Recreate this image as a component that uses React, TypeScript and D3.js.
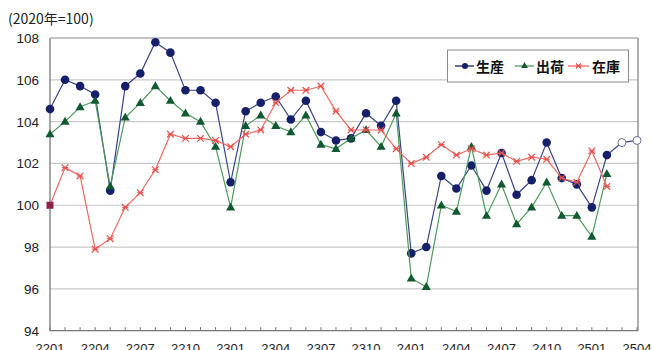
import React from "react";
import * as d3 from "d3";

// Monthly index (2020 = 100): production, shipments, inventory
const months = [
  "2201", "2202", "2203", "2204", "2205", "2206", "2207", "2208", "2209", "2210", "2211", "2212",
  "2301", "2302", "2303", "2304", "2305", "2306", "2307", "2308", "2309", "2310", "2311", "2312",
  "2401", "2402", "2403", "2404", "2405", "2406", "2407", "2408", "2409", "2410", "2411", "2412",
  "2501", "2502", "2503", "2504",
];

const tickLabels = ["2201", "2204", "2207", "2210", "2301", "2304", "2307", "2310", "2401", "2404", "2407", "2410", "2501", "2504"];
const yTicks = [94, 96, 98, 100, 102, 104, 106, 108];

const production = [
  104.6, 106.0, 105.7, 105.3, 100.7, 105.7, 106.3, 107.8, 107.3, 105.5, 105.5, 104.9,
  101.1, 104.5, 104.9, 105.2, 104.1, 105.0, 103.5, 103.1, 103.2, 104.4, 103.8, 105.0,
  97.7, 98.0, 101.4, 100.8, 101.9, 100.7, 102.5, 100.5, 101.2, 103.0, 101.3, 101.0,
  99.9, 102.4,
];

// Forecast (2503, 2504), drawn as open circles following the last actual value
const productionForecast = [103.0, 103.1];

const shipments = [
  103.4, 104.0, 104.7, 105.0, 100.9, 104.2, 104.9, 105.7, 105.0, 104.4, 104.0, 102.8,
  99.9, 103.8, 104.3, 103.8, 103.5, 104.3, 102.9, 102.7, 103.2, 103.6, 102.8, 104.4,
  96.5, 96.1, 100.0, 99.7, 102.8, 99.5, 101.0, 99.1, 99.9, 101.1, 99.5, 99.5,
  98.5, 101.5,
];

const inventory = [
  100.0, 101.8, 101.4, 97.9, 98.4, 99.9, 100.6, 101.7, 103.4, 103.2, 103.2, 103.1,
  102.8, 103.4, 103.6, 104.9, 105.5, 105.5, 105.7, 104.5, 103.6, 103.6, 103.6, 102.7,
  102.0, 102.3, 102.9, 102.4, 102.7, 102.4, 102.5, 102.1, 102.3, 102.2, 101.3, 101.1,
  102.6, 100.9,
];

const NAVY = "#16206a";
const NAVY_LINE = "#3a4488";
const GREEN = "#0f5a30";
const GREEN_LINE = "#4e9a5c";
const RED = "#e8504c";
const RED_LINE = "#ec6a62";

const W = 652;
const H = 350;
const plot = { left: 50, right: 637, top: 38, bottom: 330.7 };

export default function App() {
  const x = d3
    .scaleLinear()
    .domain([0, months.length - 1])
    .range([plot.left, plot.right]);
  const y = d3.scaleLinear().domain([94, 108]).range([plot.bottom, plot.top]);

  const line = d3
    .line<[number, number]>()
    .x((d) => x(d[0]))
    .y((d) => y(d[1]));

  const pts = (arr: number[], offset = 0): [number, number][] =>
    arr.map((v, i) => [i + offset, v]);

  const prodPts = pts(production);
  const lastIdx = production.length - 1;
  const forecastPts: [number, number][] = [
    [lastIdx, production[lastIdx]],
    ...pts(productionForecast, production.length),
  ];
  const shipPts = pts(shipments);
  const invPts = pts(inventory);

  const tri = d3.symbol().type(d3.symbolTriangle).size(36)();

  const xMark = (cx: number, cy: number, r: number, color: string, key: string) => (
    <g key={key} stroke={color} strokeWidth={1.2}>
      <line x1={cx - r} y1={cy - r} x2={cx + r} y2={cy + r} />
      <line x1={cx - r} y1={cy + r} x2={cx + r} y2={cy - r} />
      <line x1={cx - r * 0.9} y1={cy} x2={cx + r * 0.9} y2={cy} />
    </g>
  );

  const font = "'Liberation Sans', Arial, sans-serif";
  const jpFont = "'Noto Sans CJK JP', 'Noto Sans', sans-serif";

  return (
    <svg width={W} height={H} style={{ position: "absolute", left: 0, top: 0, background: "#fff" }}>
      <rect x={0} y={0} width={W} height={H} fill="#fff" />

      {/* unit label */}
      <text x={8} y={24} fontFamily={jpFont} fontSize={14} fill="#222">
        (2020年=100)
      </text>

      {/* horizontal gridlines */}
      {yTicks.slice(1, -1).map((t) => (
        <line key={t} x1={plot.left} x2={plot.right + 1} y1={y(t)} y2={y(t)} stroke="#c9c9c9" strokeWidth={1.2} />
      ))}
      <line x1={plot.left} x2={plot.right + 1} y1={y(108)} y2={y(108)} stroke="#8a8a8a" strokeWidth={1.2} />
      <line x1={plot.right + 1} x2={plot.right + 1} y1={y(108)} y2={plot.bottom} stroke="#7a7a7a" strokeWidth={1.2} />

      {/* axes */}
      <line x1={plot.left} x2={plot.left} y1={plot.top} y2={plot.bottom} stroke="#777" strokeWidth={1.3} />
      <line x1={plot.left} x2={plot.right + 1} y1={plot.bottom} y2={plot.bottom} stroke="#777" strokeWidth={1.3} />
      {months.map((m, i) => (
        <line key={m} x1={x(i)} x2={x(i)} y1={plot.bottom} y2={plot.bottom - 3.5} stroke="#777" strokeWidth={1} />
      ))}

      {/* y tick labels */}
      {yTicks.map((t) => (
        <text key={t} x={39} y={y(t) + 5} textAnchor="end" fontFamily={font} fontSize={13.5} fill="#222">
          {t}
        </text>
      ))}

      {/* x tick labels */}
      {tickLabels.map((m) => (
        <text key={m} x={x(months.indexOf(m))} y={352.5} textAnchor="middle" fontFamily={font} fontSize={13} fill="#222">
          {m}
        </text>
      ))}

      {/* production */}
      <path d={line(prodPts) ?? ""} fill="none" stroke={NAVY_LINE} strokeWidth={1.2} />
      <path d={line(forecastPts) ?? ""} fill="none" stroke={NAVY_LINE} strokeWidth={1.2} />
      {prodPts.map(([i, v]) => (
        <circle key={"p" + i} cx={x(i)} cy={y(v)} r={4.3} fill={NAVY} />
      ))}
      {forecastPts.slice(1).map(([i, v]) => (
        <circle key={"f" + i} cx={x(i)} cy={y(v)} r={4} fill="#fff" stroke="#6a6e8a" strokeWidth={1} />
      ))}

      {/* shipments */}
      <path d={line(shipPts) ?? ""} fill="none" stroke={GREEN_LINE} strokeWidth={1.2} />
      {shipPts.map(([i, v]) => (
        <path key={"s" + i} d={tri ?? ""} transform={`translate(${x(i)},${y(v) + 0.5})`} fill={GREEN} />
      ))}

      {/* inventory */}
      <path d={line(invPts) ?? ""} fill="none" stroke={RED_LINE} strokeWidth={1.2} />
      {invPts.map(([i, v]) =>
        i === 0 ? (
          <rect key={"i" + i} x={x(i) - 3.5} y={y(v) - 3.5} width={7} height={7} fill="#8a2346" />
        ) : (
          xMark(x(i), y(v), 3.3, RED, "i" + i)
        )
      )}

      {/* legend */}
      <g>
        <rect x={447.5} y={50} width={181} height={32} fill="#fff" stroke="#8a8a8a" strokeWidth={1} />
        <line x1={455} x2={474} y1={66} y2={66} stroke={NAVY} strokeWidth={1.3} />
        <circle cx={465} cy={66} r={3} fill={NAVY} />
        <text x={476} y={71.5} fontFamily={jpFont} fontWeight="bold" fontSize={14} fill="#111">
          生産
        </text>
        <line x1={515} x2={534} y1={66} y2={66} stroke={GREEN_LINE} strokeWidth={1.3} />
        <path d={d3.symbol().type(d3.symbolTriangle).size(20)() ?? ""} transform="translate(524.5,66)" fill={GREEN} />
        <text x={536} y={71.5} fontFamily={jpFont} fontWeight="bold" fontSize={14} fill="#111">
          出荷
        </text>
        <line x1={568} x2={589} y1={66} y2={66} stroke={RED_LINE} strokeWidth={1.3} />
        {xMark(578.5, 66, 2.5, RED, "legendX")}
        <text x={592} y={71.5} fontFamily={jpFont} fontWeight="bold" fontSize={14} fill="#111">
          在庫
        </text>
      </g>
    </svg>
  );
}
